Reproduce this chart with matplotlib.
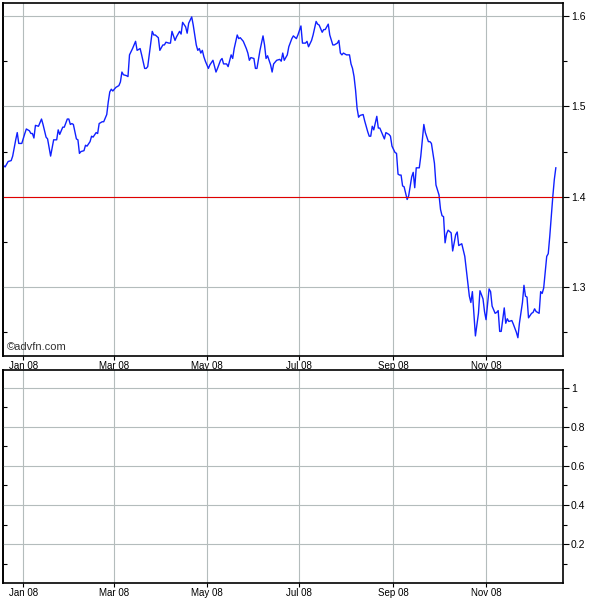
import numpy as np
import matplotlib
matplotlib.use("Agg")
from matplotlib import pyplot as plt
import matplotlib.dates as mdates
from matplotlib.ticker import MultipleLocator, FixedLocator, NullFormatter

# days counted from 2008-01-01, price
day_offset = [-14, -12, -10, -8, -7, -5, -4, -3, -1, 1, 2, 4, 5, 6, 7, 8, 10, 12, 13, 15,
              16, 18, 20, 22, 23, 24, 26, 27, 29, 30, 31, 32, 33, 35, 36, 37, 38, 40, 41, 42,
              44, 45, 46, 48, 49, 50, 52, 53, 55, 56, 57, 58, 59, 61, 63, 64, 65, 66, 68, 69,
              70, 72, 74, 75, 77, 78, 80, 81, 82, 85, 86, 87, 89, 90, 92, 93, 94, 96, 97, 98,
              100, 101, 103, 104, 105, 107, 108, 109, 111, 112, 114, 115, 116, 117, 118, 119, 120, 122, 123, 125,
              127, 128, 130, 131, 132, 134, 135, 137, 138, 139, 141, 142, 143, 145, 146, 147, 148, 149, 150, 152,
              153, 154, 156, 158, 159, 160, 161, 163, 164, 165, 167, 169, 170, 171, 172, 174, 175, 177, 178, 180,
              181, 183, 184, 186, 187, 188, 190, 191, 193, 194, 195, 197, 198, 199, 201, 202, 204, 205, 207, 208,
              209, 210, 211, 213, 215, 216, 217, 218, 219, 220, 221, 222, 224, 225, 227, 228, 229, 230, 231, 233,
              234, 235, 236, 238, 239, 241, 242, 243, 245, 246, 247, 248, 249, 250, 251, 253, 254, 256, 257, 258,
              259, 261, 262, 264, 265, 267, 268, 269, 271, 272, 274, 275, 276, 277, 278, 279, 280, 282, 283, 285,
              286, 287, 289, 290, 291, 293, 294, 295, 296, 297, 298, 300, 301, 303, 304, 305, 307, 308, 309, 311,
              312, 313, 314, 315, 317, 318, 319, 320, 322, 323, 325, 326, 327, 329, 330, 331, 332, 333, 335, 336,
              337, 338, 340, 341, 342, 343, 345, 346, 347, 348, 349, 350, 351]
price = [1.436, 1.433, 1.439, 1.440, 1.445, 1.463, 1.471, 1.459, 1.459, 1.470, 1.475, 1.473, 1.470, 1.470, 1.465, 1.479, 1.478, 1.486, 1.480, 1.466,
         1.464, 1.445, 1.463, 1.463, 1.474, 1.469, 1.477, 1.477, 1.486, 1.486, 1.480, 1.481, 1.480, 1.464, 1.463, 1.448, 1.450, 1.451, 1.457, 1.456,
         1.461, 1.467, 1.466, 1.471, 1.470, 1.481, 1.483, 1.483, 1.491, 1.505, 1.516, 1.519, 1.517, 1.521, 1.523, 1.527, 1.538, 1.535, 1.534, 1.533,
         1.557, 1.564, 1.572, 1.562, 1.564, 1.557, 1.542, 1.542, 1.544, 1.583, 1.579, 1.579, 1.576, 1.562, 1.568, 1.568, 1.571, 1.570, 1.570, 1.583,
         1.573, 1.577, 1.583, 1.580, 1.593, 1.588, 1.581, 1.592, 1.599, 1.590, 1.568, 1.562, 1.564, 1.559, 1.562, 1.555, 1.550, 1.542, 1.546, 1.551,
         1.538, 1.542, 1.551, 1.553, 1.547, 1.547, 1.544, 1.557, 1.553, 1.564, 1.579, 1.575, 1.576, 1.572, 1.568, 1.564, 1.559, 1.551, 1.554, 1.553,
         1.542, 1.542, 1.562, 1.578, 1.568, 1.553, 1.556, 1.546, 1.538, 1.547, 1.551, 1.552, 1.550, 1.559, 1.551, 1.557, 1.566, 1.575, 1.578, 1.575,
         1.579, 1.589, 1.570, 1.570, 1.572, 1.566, 1.573, 1.579, 1.594, 1.591, 1.590, 1.582, 1.585, 1.585, 1.591, 1.579, 1.568, 1.568, 1.570, 1.573,
         1.559, 1.557, 1.559, 1.557, 1.557, 1.547, 1.542, 1.533, 1.518, 1.498, 1.488, 1.490, 1.491, 1.484, 1.472, 1.467, 1.467, 1.478, 1.474, 1.489,
         1.476, 1.476, 1.472, 1.464, 1.471, 1.469, 1.467, 1.456, 1.449, 1.448, 1.425, 1.424, 1.424, 1.412, 1.411, 1.397, 1.401, 1.422, 1.427, 1.410,
         1.432, 1.432, 1.445, 1.480, 1.471, 1.461, 1.461, 1.459, 1.437, 1.413, 1.402, 1.386, 1.379, 1.378, 1.349, 1.359, 1.363, 1.360, 1.340, 1.358,
         1.361, 1.346, 1.348, 1.341, 1.334, 1.305, 1.290, 1.283, 1.295, 1.271, 1.246, 1.271, 1.296, 1.287, 1.273, 1.264, 1.298, 1.295, 1.279, 1.271,
         1.272, 1.274, 1.251, 1.251, 1.277, 1.260, 1.265, 1.262, 1.263, 1.259, 1.250, 1.244, 1.260, 1.283, 1.302, 1.290, 1.289, 1.266, 1.271, 1.272,
         1.276, 1.273, 1.271, 1.295, 1.293, 1.299, 1.334, 1.337, 1.356, 1.378, 1.400, 1.419, 1.432]
ref_level = 1.4
lower_ticks = [0.2, 0.4, 0.6, 0.8, 1.0]
lower_labels = ["0.2", "0.4", "0.6", "0.8", "1"]

start = np.datetime64("2008-01-01")
dates = start + np.array(day_offset).astype("timedelta64[D]")
x0 = mdates.date2num(start)
xlim = (x0 - 13.7, x0 + 355.4)

plt.rcParams["font.family"] = ["Liberation Sans", "DejaVu Sans"]
grid_col = "#b4bcbc"

fig = plt.figure(figsize=(6, 6), dpi=100)
ax = fig.add_axes([0.0042, 0.4067, 0.9333, 0.5883])
ax2 = fig.add_axes([0.0042, 0.0283, 0.9333, 0.355])


def style(a):
    a.set_xlim(*xlim)
    a.xaxis.set_major_locator(mdates.MonthLocator(bymonth=[1, 3, 5, 7, 9, 11]))
    a.xaxis.set_major_formatter(mdates.DateFormatter("%b %y"))
    a.yaxis.tick_right()
    a.tick_params(axis="x", direction="out", length=3, width=0.8, labelsize=7, pad=0.5)
    a.tick_params(axis="y", which="major", direction="out", length=4, width=0.8, labelsize=7.5, pad=2)
    a.tick_params(axis="y", which="minor", direction="out", length=3, width=0.8)
    a.grid(True, which="major", color=grid_col, linewidth=0.8)
    a.set_axisbelow(True)
    for s in a.spines.values():
        s.set_linewidth(1.2)


style(ax)
ax.plot(dates, price, color="#1020ff", linewidth=1.0)
ax.axhline(ref_level, color="#e00000", linewidth=0.8)
ax.set_ylim(1.2238, 1.6144)
ax.yaxis.set_major_locator(MultipleLocator(0.1))
ax.yaxis.set_minor_locator(MultipleLocator(0.05))
sec = ax.secondary_yaxis("left")
sec.yaxis.set_major_locator(FixedLocator([1.25, 1.35, 1.45, 1.55]))
sec.yaxis.set_major_formatter(NullFormatter())
sec.tick_params(direction="in", length=3, width=0.8)
sec.spines["left"].set_linewidth(1.2)
ax.text(0.008, 0.01, "\u00a9advfn.com", transform=ax.transAxes, fontsize=8,
        color="#333333", ha="left", va="bottom")

style(ax2)
ax2.set_ylim(0, 1.092)
ax2.yaxis.set_major_locator(FixedLocator(lower_ticks))
ax2.set_yticklabels(lower_labels)
ax2.yaxis.set_minor_locator(FixedLocator([0.1, 0.3, 0.5, 0.7, 0.9]))
sec2 = ax2.secondary_yaxis("left")
sec2.yaxis.set_major_locator(FixedLocator([0.1, 0.3, 0.5, 0.7, 0.9]))
sec2.yaxis.set_major_formatter(NullFormatter())
sec2.tick_params(direction="in", length=3, width=0.8)
sec2.spines["left"].set_linewidth(1.2)

fig.savefig("out.png", dpi=100)
